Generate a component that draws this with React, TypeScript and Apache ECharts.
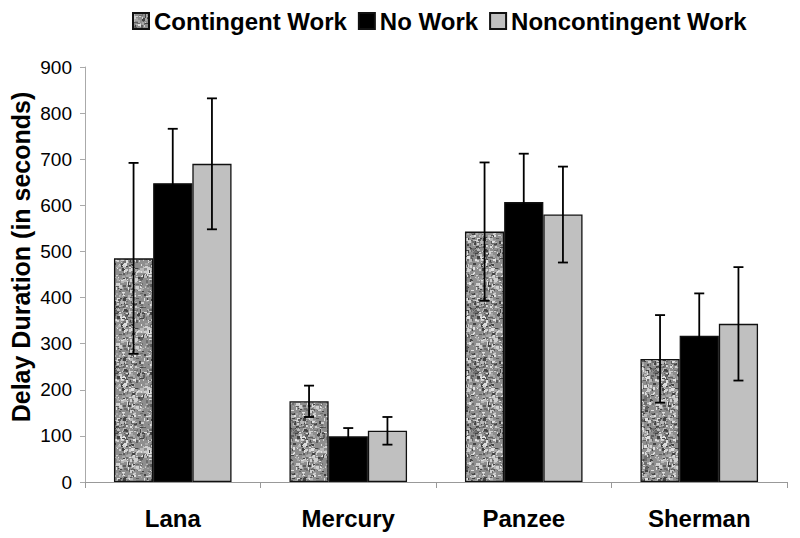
import React, { useEffect, useRef } from "react";
import * as echarts from "echarts";

const categories = ["Lana", "Mercury", "Panzee", "Sherman"];
const seriesNames = ["Contingent Work", "No Work", "Noncontingent Work"];
const contingent = [485, 175, 543, 267];
const contingentErr = [207, 34, 150, 95];
const noWork = [648, 99, 607, 317];
const noWorkErr = [118, 18, 105, 92];
const noncontingent = [690, 111, 580, 343];
const noncontingentErr = [142, 30, 104, 123];
const yTicks = [0, 100, 200, 300, 400, 500, 600, 700, 800, 900];

function makeSpeckle(): HTMLCanvasElement {
  const c = document.createElement("canvas");
  c.width = 60;
  c.height = 60;
  const ctx = c.getContext("2d")!;
  ctx.fillStyle = "#8e8e8e";
  ctx.fillRect(0, 0, 60, 60);
  let s = 4242;
  const rnd = () => {
    s = (s * 1103515245 + 12345) % 2147483648;
    return s / 2147483648;
  };
  const shades = ["#444444", "#5e5e5e", "#b8b8b8", "#cfcfcf", "#6e6e6e", "#e0e0e0", "#a8a8a8"];
  for (let i = 0; i < 700; i++) {
    ctx.fillStyle = shades[Math.floor(rnd() * shades.length)];
    const w = 1 + Math.floor(rnd() * 3);
    const h = 1 + Math.floor(rnd() * 3);
    ctx.fillRect(Math.floor(rnd() * 60), Math.floor(rnd() * 60), w, h);
  }
  return c;
}

export default function App() {
  const ref = useRef<HTMLDivElement>(null);
  useEffect(() => {
    if (!ref.current) return;
    const chart = echarts.init(ref.current, null, { renderer: "svg" });
    const speckle = makeSpeckle();
    const pattern: any = { image: speckle, repeat: "repeat", imageWidth: 60, imageHeight: 60 };
    const values = [contingent, noWork, noncontingent];
    const errs = [contingentErr, noWorkErr, noncontingentErr];
    const colors: any[] = [pattern, "#000000", "#c0c0c0"];
    const errData: number[][] = [];
    values.forEach((vals, s) => {
      vals.forEach((v, c) => {
        errData.push([c, s, v - errs[s][c], v + errs[s][c]]);
      });
    });
    const gapFrac = 0.33;
    chart.setOption({
      animation: false,
      textStyle: { fontFamily: "Liberation Sans, Arial, sans-serif" },
      legend: {
        data: seriesNames,
        left: 119,
        top: -4,
        itemWidth: 16,
        itemHeight: 16,
        itemGap: 11,
        icon: "rect",
        textStyle: { fontSize: 24, fontWeight: "bold", color: "#000" },
      },
      grid: { left: 77, right: 5, top: 59, bottom: 56, containLabel: false },
      xAxis: {
        type: "category",
        data: categories,
        axisLine: { lineStyle: { color: "#999999", width: 1 } },
        axisTick: { show: true, length: 6, lineStyle: { color: "#999999" } },
        axisLabel: { fontSize: 24, fontWeight: "bold", color: "#000", margin: 24 },
      },
      yAxis: {
        type: "value",
        min: yTicks[0],
        max: yTicks[yTicks.length - 1],
        interval: 100,
        axisLine: { show: true, lineStyle: { color: "#aaaaaa", width: 1 } },
        axisTick: { show: true, length: 5, lineStyle: { color: "#aaaaaa" } },
        splitLine: { show: false },
        axisLabel: { fontSize: 19, color: "#000", margin: 13 },
      },
      graphic: [
        {
          type: "text",
          x: 13,
          y: 249,
          rotation: Math.PI / 2,
          style: {
            text: "Delay Duration (in seconds)",
            fontSize: 25,
            fontWeight: "bold",
            fill: "#000",
            align: "center",
            verticalAlign: "middle",
            fontFamily: "Liberation Sans, Arial, sans-serif",
          },
        },
      ],
      series: [
        ...seriesNames.map((name, i) => ({
          name,
          type: "bar",
          data: values[i],
          barGap: "0%",
          barCategoryGap: "33%",
          itemStyle: { color: colors[i], borderColor: "#111", borderWidth: 1.3 },
        })),
        {
          type: "custom",
          name: "err",
          z: 10,
          data: errData,
          encode: { x: 0, y: [2, 3] },
          renderItem: (params: any, api: any) => {
            const cat = api.value(0);
            const s = api.value(1);
            const lo = api.value(2);
            const hi = api.value(3);
            const band = api.size([1, 0])[0];
            const bw = (band * (1 - gapFrac)) / 3;
            const center = api.coord([cat, 0])[0];
            const x = center + (s - 1) * bw;
            const pLo = api.coord([cat, lo]);
            const pHi = api.coord([cat, hi]);
            const cap = 5;
            const st = { stroke: "#000", lineWidth: 1.8 };
            return {
              type: "group",
              children: [
                { type: "line", shape: { x1: x, y1: pLo[1], x2: x, y2: pHi[1] }, style: st },
                { type: "line", shape: { x1: x - cap, y1: pHi[1], x2: x + cap, y2: pHi[1] }, style: st },
                { type: "line", shape: { x1: x - cap, y1: pLo[1], x2: x + cap, y2: pLo[1] }, style: st },
              ],
            };
          },
        },
      ],
    });
    return () => chart.dispose();
  }, []);
  return <div ref={ref} style={{ width: 784, height: 530 }} />;
}
